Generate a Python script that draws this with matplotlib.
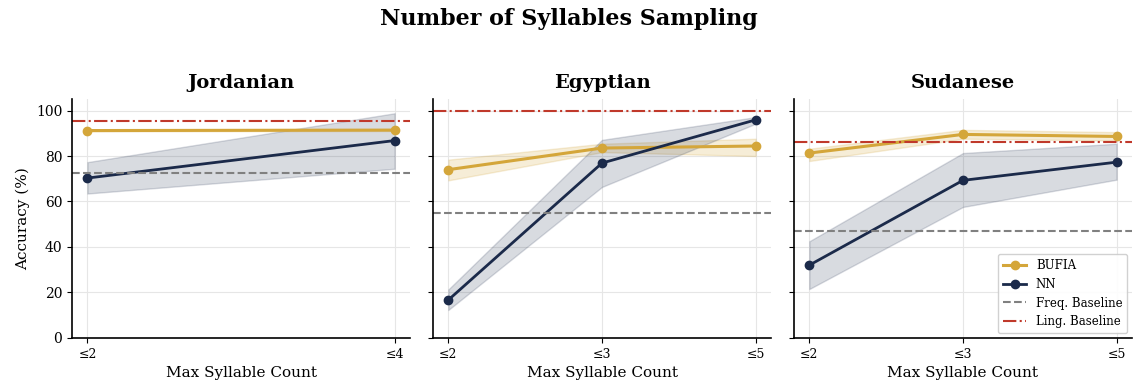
import matplotlib
matplotlib.use("Agg")
import matplotlib.pyplot as plt
import numpy as np

# Data
dialects = ['Jordanian', 'Egyptian', 'Sudanese']
tick_labels = {
    'Jordanian': ['≤2', '≤4'],
    'Egyptian': ['≤2', '≤3', '≤5'],
    'Sudanese': ['≤2', '≤3', '≤5'],
}

bufia_mean = {
    'Jordanian': [91.2, 91.4],
    'Egyptian': [74.0, 83.5, 84.4],
    'Sudanese': [81.3, 89.5, 88.6],
}
bufia_low = {
    'Jordanian': [90.8, 91.0],
    'Egyptian': [69.3, 81.7, 80.0],
    'Sudanese': [77.8, 87.6, 86.8],
}
bufia_high = {
    'Jordanian': [91.6, 91.8],
    'Egyptian': [78.4, 85.4, 87.6],
    'Sudanese': [83.2, 91.5, 90.5],
}

nn_mean = {
    'Jordanian': [70.3, 86.8],
    'Egyptian': [16.7, 76.9, 95.9],
    'Sudanese': [32.0, 69.3, 77.3],
}
nn_low = {
    'Jordanian': [63.5, 74.4],
    'Egyptian': [12.3, 66.4, 94.2],
    'Sudanese': [21.5, 57.6, 69.6],
}
nn_high = {
    'Jordanian': [77.3, 98.8],
    'Egyptian': [21.3, 87.1, 97.1],
    'Sudanese': [42.5, 81.3, 85.4],
}

freq_baseline = {'Jordanian': 72.7, 'Egyptian': 55.0, 'Sudanese': 46.9}
ling_baseline = {'Jordanian': 95.6, 'Egyptian': 99.7, 'Sudanese': 86.1}

gold = '#D4A63A'
navy = '#1B2A4A'
red = '#C0392B'
gray = '#808080'

plt.rcParams['font.family'] = 'DejaVu Serif'

fig = plt.figure(figsize=(11.38, 3.92), dpi=100)
lefts = [0.0633, 0.3805, 0.6977]
width = 0.297
bottom = 0.138
height = 0.609

for i, d in enumerate(dialects):
    ax = fig.add_axes([lefts[i], bottom, width, height])
    x = np.arange(len(tick_labels[d]))

    ax.fill_between(x, bufia_low[d], bufia_high[d], color=gold, alpha=0.2, linewidth=1)
    ax.fill_between(x, nn_low[d], nn_high[d], color=navy, alpha=0.17, linewidth=1)
    ax.plot(x, bufia_mean[d], color=gold, marker='o', markersize=6, linewidth=2.2, label='BUFIA')
    ax.plot(x, nn_mean[d], color=navy, marker='o', markersize=6, linewidth=2.0, label='NN')
    ax.axhline(freq_baseline[d], color=gray, linestyle='--', linewidth=1.5, label='Freq. Baseline')
    ax.axhline(ling_baseline[d], color=red, linestyle='-.', linewidth=1.5, label='Ling. Baseline')

    ax.set_xticks(x)
    ax.set_xticklabels(tick_labels[d], fontsize=9)
    ax.set_ylim(0, 105)
    ax.set_yticks([0, 20, 40, 60, 80, 100])
    if i == 0:
        ax.set_ylabel('Accuracy (%)', fontsize=11)
        ax.tick_params(axis='y', labelsize=10)
    else:
        ax.set_yticklabels([])
    ax.set_xlabel('Max Syllable Count', fontsize=11)
    ax.set_title(d, fontsize=14, fontweight='bold', pad=8)
    ax.grid(True, color='#e6e6e6', linewidth=0.8)
    ax.set_axisbelow(True)
    ax.spines['top'].set_visible(False)
    ax.spines['right'].set_visible(False)
    ax.spines['left'].set_linewidth(1.2)
    ax.spines['bottom'].set_linewidth(1.2)

    if i == 2:
        ax.legend(loc='lower right', fontsize=8.5, framealpha=0.9, edgecolor='#cccccc',
                  borderaxespad=0.4)

fig.suptitle('Number of Syllables Sampling', fontsize=16, fontweight='bold', y=0.98)

fig.savefig('out.png', dpi=100)
